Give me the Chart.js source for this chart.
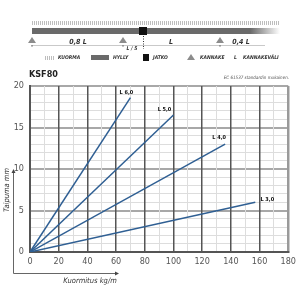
<!DOCTYPE html>
<html><head><meta charset="utf-8">
<script src="https://cdn.jsdelivr.net/npm/chart.js@4"></script>
<style>html,body{margin:0;padding:0;background:#fff}#wrap{width:300px;height:300px}</style>
</head><body><div id="wrap"><canvas id="c" width="300" height="300"></canvas></div>
<script>
const seriesLabels = ['L 6,0','L 5,0','L 4,0','L 3,0'];
const loadL6 = [0, 70];   const deflL6 = [0, 18.6];
const loadL5 = [0, 100];  const deflL5 = [0, 16.5];
const loadL4 = [0, 136];  const deflL4 = [0, 13.0];
const loadL3 = [0, 157];  const deflL3 = [0, 6.0];
const xTicks = [0,20,40,60,80,100,120,140,160,180];
const yTicks = [0,5,10,15,20];
const chartTitle = 'KSF80';
const noteText = 'EC 61537 standardin mukainen.';
const xTitle = 'Kuormitus kg/m';
const yTitle = 'Taipuma mm';

const loads = [loadL6, loadL5, loadL4, loadL3];
const defls = [deflL6, deflL5, deflL4, deflL3];
const labelOffsets = [[-4,-5],[-9,-5],[-6,-7],[12,-3]];
const FONT = "'Liberation Sans Narrow','DejaVu Sans Condensed','Liberation Sans',sans-serif";

const datasets = seriesLabels.map((lab,i)=>({
  label: lab,
  data: loads[i].map((x,j)=>({x:x, y:defls[i][j]})),
  borderColor:'#2f5f93', borderWidth:1.5, pointRadius:0, fill:false, tension:0
}));

const deco = {
  id:'deco',
  afterDraw(chart){
    const c = chart.ctx;
    c.save();
    c.strokeStyle='#bdbdbd'; c.lineWidth=1;
    for(let x=32;x<280;x+=2){c.beginPath();c.moveTo(x+0.5,21);c.lineTo(x+0.5,25);c.stroke();}
    const g=c.createLinearGradient(32,0,280,0);
    g.addColorStop(0,'#6a6a6a');g.addColorStop(0.88,'#6a6a6a');g.addColorStop(1,'#ffffff');
    c.fillStyle=g; c.fillRect(32,28,248,6);
    c.fillStyle='#111'; c.fillRect(139,27,8,8);
    c.strokeStyle='#333'; c.setLineDash([1,1.5]);
    c.beginPath();c.moveTo(143.5,36);c.lineTo(143.5,49);c.stroke();c.setLineDash([]);
    c.strokeStyle='#bbb'; c.lineWidth=0.8;
    c.beginPath();c.moveTo(32,45.5);c.lineTo(265,45.5);c.stroke();
    c.fillStyle='#8c8c8c';
    [32,123,220].forEach(x=>{c.beginPath();c.moveTo(x,37);c.lineTo(x+4,43);c.lineTo(x-4,43);c.closePath();c.fill();
      c.fillRect(x-0.8,45,1.6,1.6);});
    c.fillStyle='#333';
    c.font="italic bold 7px "+FONT; c.textBaseline='middle'; c.textAlign='center';
    c.fillText('0,8 L',78,42); c.fillText('L',171,42); c.fillText('0,4 L',241,42);
    c.font="italic bold 5px "+FONT; c.fillText('L / 5',132,49);
    c.strokeStyle='#bdbdbd'; c.lineWidth=1;
    for(let x=45;x<55;x+=2){c.beginPath();c.moveTo(x+0.5,56);c.lineTo(x+0.5,60);c.stroke();}
    c.fillStyle='#6a6a6a'; c.fillRect(91,55,18,5);
    c.fillStyle='#111'; c.fillRect(143,54,6,7);
    c.fillStyle='#8c8c8c'; c.beginPath();c.moveTo(191,54);c.lineTo(195,60);c.lineTo(187,60);c.closePath();c.fill();
    c.fillStyle='#333'; c.textAlign='left'; c.font="italic bold 5px "+FONT;
    c.fillText('KUORMA',58,58); c.fillText('HYLLY',113,58); c.fillText('JATKO',153,58);
    c.fillText('KANNAKE',200,58); c.fillText('L',234,58); c.fillText('KANNAKEVÄLI',243,58);
    c.fillStyle='#222'; c.font="bold 9px "+FONT; c.fillText(chartTitle,29,75);
    c.fillStyle='#555'; c.font="italic 4.5px "+FONT; c.textAlign='right'; c.fillText(noteText,289,78);
    const xs=chart.scales.x, ys=chart.scales.y;
    c.fillStyle='#111'; c.font="bold 5.5px "+FONT; c.textAlign='center';
    seriesLabels.forEach((lab,i)=>{
      const px=xs.getPixelForValue(loads[i][1])+labelOffsets[i][0];
      const py=ys.getPixelForValue(defls[i][1])+labelOffsets[i][1];
      c.fillText(lab,px,py);
    });
    c.strokeStyle='#666'; c.lineWidth=1;
    c.beginPath();c.moveTo(13.5,172);c.lineTo(13.5,273.5);c.lineTo(116,273.5);c.stroke();
    c.fillStyle='#444';
    c.beginPath();c.moveTo(119,273.5);c.lineTo(115,271.5);c.lineTo(115,275.5);c.closePath();c.fill();
    c.beginPath();c.moveTo(13.5,169);c.lineTo(11.5,173);c.lineTo(15.5,173);c.closePath();c.fill();
    c.fillStyle='#333'; c.font="italic 7.5px "+FONT; c.textAlign='center';
    c.fillText(xTitle,90,281);
    c.save(); c.translate(7,190); c.rotate(-Math.PI/2); c.fillText(yTitle,0,0); c.restore();
    c.restore();
  }
};

new Chart(document.getElementById('c'),{
  type:'line',
  data:{datasets},
  options:{
    responsive:false, animation:false, devicePixelRatio:1,
    layout:{padding:{top:86,right:9,left:0,bottom:0}},
    plugins:{legend:{display:false},tooltip:{enabled:false}},
    scales:{
      x:{type:'linear',min:0,max:180,
        afterFit(s){s.height=48;},
        ticks:{stepSize:10,autoSkip:false,maxRotation:0,maxTicksLimit:50,padding:4,color:'#555',
          font:{family:FONT,size:9},
          callback:v=>xTicks.includes(v)?String(v):''},
        grid:{drawTicks:false,z:-1,
          color:ctx=>{const v=ctx.tick?ctx.tick.value:0; if(v===180) return '#9a9a9a'; return v%20===0?'#555555':'#dddddd';},
          lineWidth:ctx=>{const v=ctx.tick?ctx.tick.value:0; if(v===180) return 2.5; return v%20===0?1.5:1;}},
        border:{color:'#555',width:2}
      },
      y:{type:'linear',min:0,max:20,
        afterFit(s){s.width=30;},
        ticks:{stepSize:1,autoSkip:false,maxTicksLimit:50,padding:6,color:'#555',
          font:{family:FONT,size:9},
          callback:v=>yTicks.includes(v)?String(v):''},
        grid:{drawTicks:false,z:-2,
          color:ctx=>{const v=ctx.tick?ctx.tick.value:0; return v%5===0?'#a8a8a8':'#dddddd';},
          lineWidth:ctx=>{const v=ctx.tick?ctx.tick.value:0; return v%5===0?2:1;}},
        border:{color:'#555',width:2}
      }
    }
  },
  plugins:[deco]
});
</script></body></html>
